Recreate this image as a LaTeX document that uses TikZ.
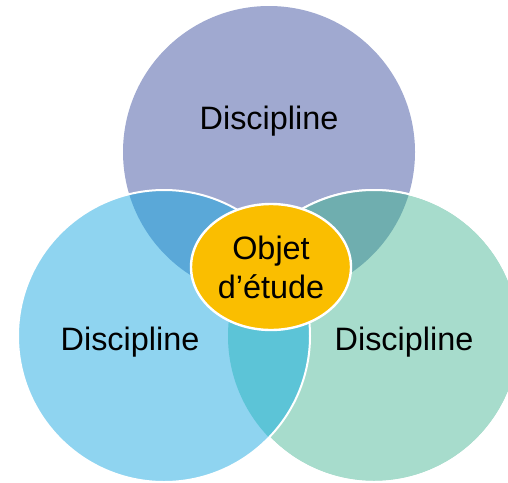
\documentclass[tikz,border=0pt]{standalone}
\usepackage{fontspec}
\setmainfont{Liberation Sans}
\usepackage{xcolor}
\usepackage{tikz}
\usetikzlibrary{shapes.geometric, positioning}
\definecolor{topdisc}{HTML}{A0A9D0}
\definecolor{leftdisc}{HTML}{8FD4F0}
\definecolor{rightdisc}{HTML}{A7DCCC}
\definecolor{topleft}{HTML}{5AA8D8}
\definecolor{topright}{HTML}{6FAEAF}
\definecolor{leftright}{HTML}{5CC4D7}
\definecolor{objet}{HTML}{FABE00}
\tikzset{
    disc/.style={
        circle,
        draw=white,
        line width=1pt,
        minimum size=146pt,
        inner sep=0pt
    },
    label/.style={
        font=\fontsize{16.2}{19}\selectfont,
        text=black
    },
    object/.style={
        ellipse,
        draw=white,
        line width=1.2pt,
        fill=objet,
        minimum width=80pt,
        minimum height=63pt,
        inner sep=0pt,
        align=center,
        font=\fontsize{16.2}{19.5}\selectfont,
        text=black
    }
}

\begin{document}
\begin{tikzpicture}[x=0.5pt, y=-0.5pt]
\useasboundingbox (0,0) rectangle (508,482);

% Top discipline
\node[disc, fill=topdisc, draw=none] (top) at (269,152) {};

% Right discipline
\node[disc, fill=rightdisc] (right) at (374,336) {};
\begin{scope}
    \clip (top.center) circle[radius=146];
    \fill[topright] (right.center) circle[radius=146];
\end{scope}
\draw[white, line width=1pt] (right.center) circle[radius=146];

% Left discipline
\node[disc, fill=leftdisc, draw=none] (left) at (164,336) {};
\begin{scope}
    \clip (left.center) circle[radius=146];
    \fill[topleft] (top.center) circle[radius=146];
    \fill[leftright] (right.center) circle[radius=146];
\end{scope}
\draw[white, line width=1pt] (left.center) circle[radius=146];

% Labels
\node[label] (toplabel) at ([yshift=15.5pt]top.center) {Discipline};
\node[label] (leftlabel) at ([xshift=-17pt, yshift=-3pt]left.center) {Discipline};
\node[label] (rightlabel) at ([xshift=15pt, yshift=-3pt]right.center) {Discipline};

% Object of study
\node[object] (objet) at (271,267) {Objet\\d’étude};

\end{tikzpicture}
\end{document}
